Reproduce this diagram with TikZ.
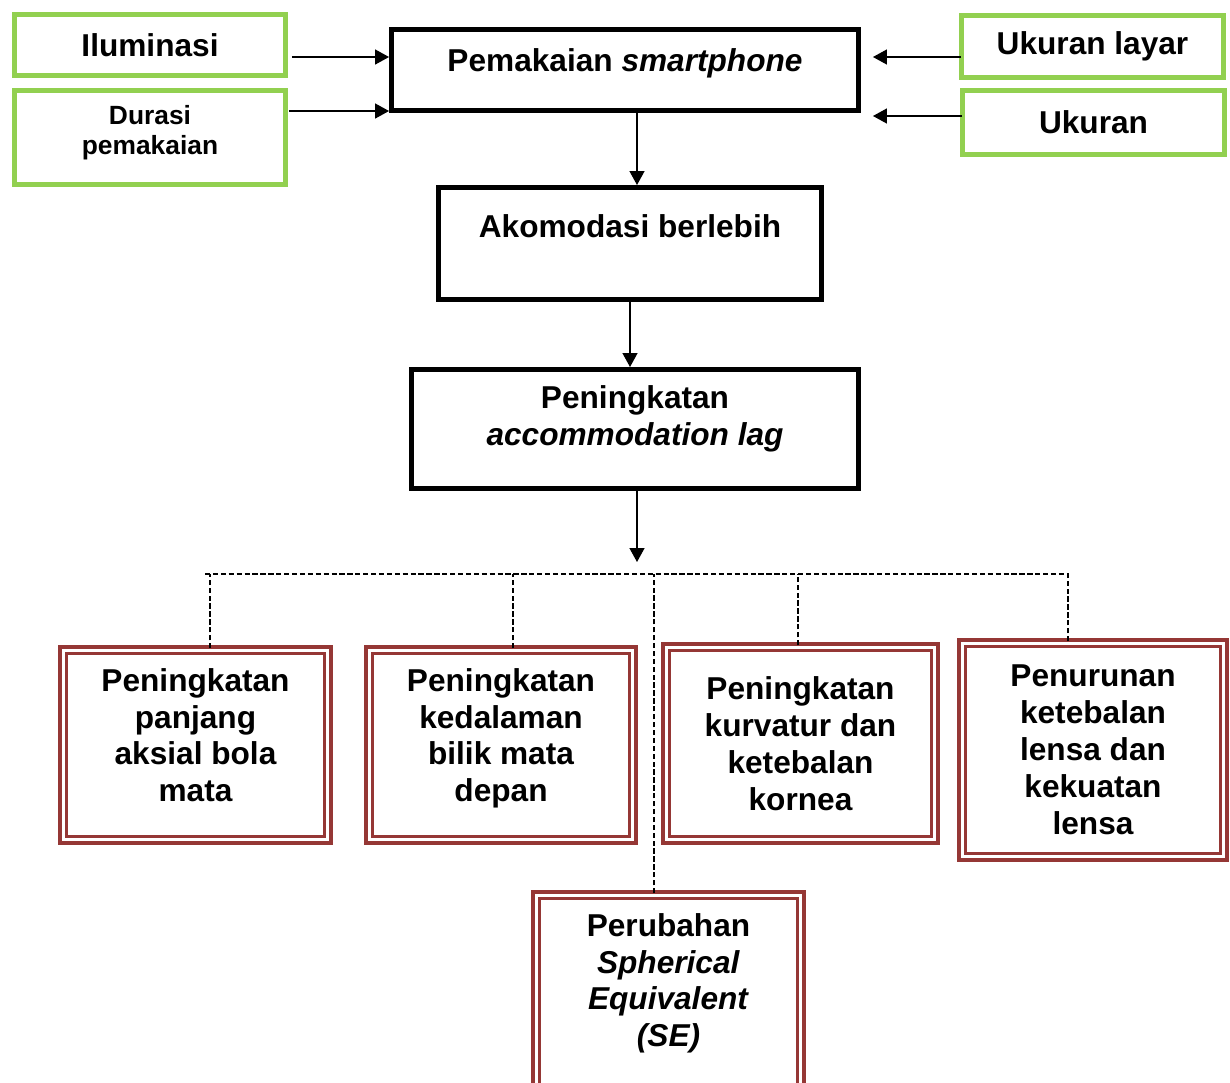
\documentclass[tikz,border=0pt]{standalone}
\usepackage{fontspec}
\setmainfont{Liberation Sans}
\usetikzlibrary{arrows.meta,positioning,calc}
\definecolor{cgreen}{HTML}{92D050}
\definecolor{cred}{HTML}{953735}

\begin{document}
\begin{tikzpicture}[x=0.02cm, y=-0.02cm,
      box/.style={draw, line width=0.1cm, align=center, inner sep=0pt, font=\fontsize{18}{21}\selectfont\bfseries},
      gbox/.style={box, draw=cgreen},
      rbox/.style={box, draw=cred, line width=0.07cm, double=white, double distance=0.06cm},
      arr/.style={-{Triangle[length=0.28cm,width=0.3cm]}, line width=0.8pt},
      dsh/.style={dash pattern=on 3pt off 1.5pt, line width=0.7pt}
    ]
    \useasboundingbox (0,0) rectangle (1230,1082);
    % faktor
    \node[gbox, minimum width=5.42cm, minimum height=1.22cm] (ilu) at (150,45) {Iluminasi};
    \node[gbox, minimum width=5.42cm, minimum height=1.88cm, text depth=0.3cm, font=\fontsize{15}{17.5}\selectfont\bfseries] (dur) at (150,137.5) {Durasi\\pemakaian};
    \node[gbox, minimum width=5.24cm, minimum height=1.24cm] (uly) at (1092.5,46.5) {Ukuran layar};
    \node[gbox, minimum width=5.24cm, minimum height=1.28cm] (ukr) at (1093.5,122.5) {Ukuran};
    % alur utama
    \node[box, minimum width=9.34cm, minimum height=1.62cm, text depth=0.4cm] (pem) at (625,70) {Pemakaian \textit{smartphone}};
    \node[box, minimum width=7.66cm, minimum height=2.24cm, text depth=0.68cm] (ako) at (630,243.5) {Akomodasi berlebih};
    \node[box, minimum width=8.94cm, minimum height=2.38cm, text depth=0.55cm] (lag) at (635,429) {Peningkatan\\\textit{accommodation lag}};
    % dampak
    \node[rbox, minimum width=5.3cm, minimum height=3.8cm, text depth=0.4cm] (b1) at (195.5,745) {Peningkatan\\panjang\\aksial bola\\mata};
    \node[rbox, minimum width=5.28cm, minimum height=3.8cm, text depth=0.4cm] (b2) at (501,745) {Peningkatan\\kedalaman\\bilik mata\\depan};
    \node[rbox, minimum width=5.38cm, minimum height=3.86cm] (b3) at (800.5,743.5) {Peningkatan\\kurvatur dan\\ketebalan\\kornea};
    \node[rbox, minimum width=5.24cm, minimum height=4.28cm] (b4) at (1093,750) {Penurunan\\ketebalan\\lensa dan\\kekuatan\\lensa};
    \node[rbox, minimum width=5.3cm, minimum height=4cm, text depth=0.6cm] (b5) at (668.5,995) {Perubahan\\\textit{Spherical}\\\textit{Equivalent}\\\textit{(SE)}};
    \coordinate (hub) at (637,562);
    \coordinate (dl) at (205,574);
    \coordinate (dr) at (1068,574);
    % panah
    \draw[arr] ($(ilu.east)+(4,12)$) -- ($(pem.west |- ilu.east)+(0,12)$);
    \draw[arr] ($(dur.east)+(1,-26.5)$) -- ($(pem.west |- dur.east)+(0,-26.5)$);
    \draw[arr] ($(uly.west)+(2,10.5)$) -- ($(pem.east |- uly.west)+(12,10.5)$);
    \draw[arr] ($(ukr.west)+(2,-6.5)$) -- ($(pem.east |- ukr.west)+(12,-6.5)$);
    \draw[arr] ($(pem.south)+(12,0)$) -- ($(ako.north)+(7,0)$);
    \draw[arr] (ako.south) -- (ako.south |- lag.north);
    \draw[arr] ($(lag.south)+(2,0)$) -- (hub);
    \draw[dsh] (dl) -- (dr);
    \draw[dsh] ($(b1.north)+(14.5,0)$) -- ($(b1.north |- dl)+(14.5,0)$);
    \draw[dsh] ($(b2.north)+(12,0)$) -- ($(b2.north |- dl)+(12,0)$);
    \draw[dsh] ($(b5.north)+(-14.5,0)$) -- ($(b5.north |- dl)+(-14.5,0)$);
    \draw[dsh] ($(b3.north)+(-2.5,0)$) -- ($(b3.north |- dl)+(-2.5,0)$);
    \draw[dsh] ($(b4.north)+(-25,0)$) -- ($(b4.north |- dl)+(-25,-2)$);
  \end{tikzpicture}
\end{document}
